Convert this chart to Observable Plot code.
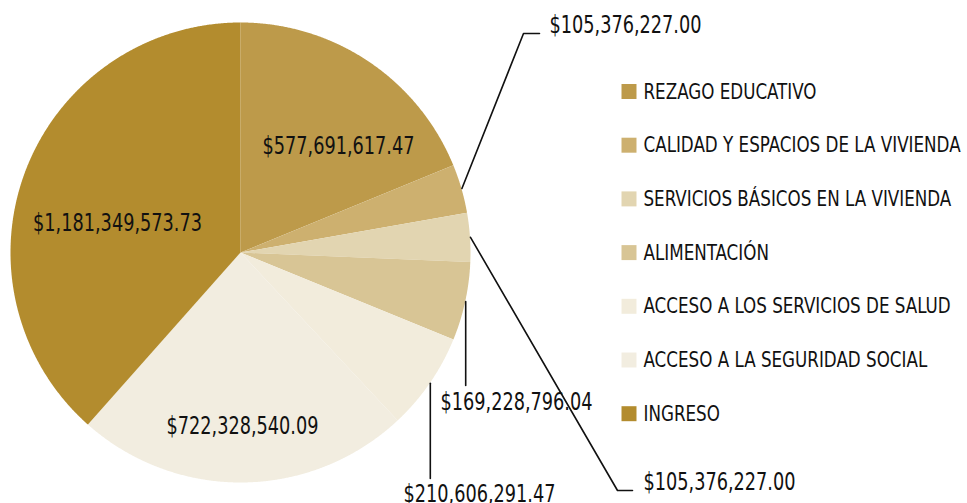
<!DOCTYPE html>
<html><head><meta charset="utf-8">
<script src="https://cdn.jsdelivr.net/npm/d3@7"></script>
<script src="https://cdn.jsdelivr.net/npm/@observablehq/plot@0.6"></script>
<style>body{margin:0;background:#fff}</style>
</head><body><div id="chart"></div>
<script>
const categories = ["REZAGO EDUCATIVO", "CALIDAD Y ESPACIOS DE LA VIVIENDA", "SERVICIOS BÁSICOS EN LA VIVIENDA", "ALIMENTACIÓN", "ACCESO A LOS SERVICIOS DE SALUD", "ACCESO A LA SEGURIDAD SOCIAL", "INGRESO"];
const values = [577691617.47, 105376227.00, 105376227.00, 169228796.04, 210606291.47, 722328540.09, 1181349573.73];
const colors = ["#bd9a4a", "#cdb06f", "#e2d5b1", "#d8c595", "#f2ecdc", "#f2ede0", "#b38c2e"];

const W = 967, H = 503, cx = 240, cy = 252, R = 230;
const FONT = "'DejaVu Sans Condensed', 'DejaVu Sans', sans-serif";
const fmt = v => "$" + d3.format(",.2f")(v);
const arcs = d3.pie().sort(null).value(d => d)(values);
const pt = (a, r) => [cx + r * Math.sin(a), cy - r * Math.cos(a)];

const slicePts = [];
arcs.forEach((a, i) => {
  const cat = categories[i];
  slicePts.push({cat, x: cx, y: cy});
  const n = Math.max(2, Math.ceil((a.endAngle - a.startAngle) / 0.004));
  for (let k = 0; k <= n; k++) {
    const t = a.startAngle + (a.endAngle - a.startAngle) * k / n;
    const [x, y] = pt(t, R);
    slicePts.push({cat, x, y});
  }
  slicePts.push({cat, x: cx, y: cy});
});

// layout of labels (annotation placement)
const insideLayout = {0: [338, 146], 5: [242, 426], 6: [117, 223]};
const leaderLayout = {
  1: {pts: [[523, 33], [539, 33]], text: [549, 25]},
  2: {pts: [[617, 490], [632, 490]], text: [643, 482]},
  3: {vy: 385, text: [440, 402]},
  4: {vy: 478, text: [403, 494]}
};

const insideLabels = Object.entries(insideLayout).map(([i, p]) => ({x: p[0], y: p[1], text: fmt(values[+i])}));
const leaderLines = [];
const leaderLabels = [];
Object.entries(leaderLayout).forEach(([i, L]) => {
  const a = arcs[+i];
  const mid = (a.startAngle + a.endAngle) / 2;
  const [sx, sy] = pt(mid, R + 0.5);
  leaderLines.push({id: i, x: sx, y: sy});
  if (L.pts) L.pts.forEach(p => leaderLines.push({id: i, x: p[0], y: p[1]}));
  else leaderLines.push({id: i, x: sx, y: L.vy});
  leaderLabels.push({x: L.text[0], y: L.text[1], text: fmt(values[+i])});
});

const rowY = i => 91 + i * 53.7;

const chart = Plot.plot({
  width: W, height: H, margin: 0,
  x: {domain: [0, W], range: [0, W], axis: null},
  y: {domain: [0, H], range: [0, H], axis: null},
  color: {domain: categories, range: colors},
  style: {background: "white", fontFamily: FONT},
  marks: [
    Plot.line(slicePts, {x: "x", y: "y", z: "cat", fill: "cat", stroke: "none", curve: "linear"}),
    Plot.line(leaderLines, {x: "x", y: "y", z: "id", stroke: "#111", strokeWidth: 1.6, curve: "linear"}),
    Plot.text(insideLabels, {x: "x", y: "y", text: "text", textAnchor: "middle", fontSize: 24, fill: "#111", fontFamily: FONT}),
    Plot.text(leaderLabels, {x: "x", y: "y", text: "text", textAnchor: "start", fontSize: 24, fill: "#111", fontFamily: FONT}),
    Plot.dot(categories, {x: () => 628.5, y: (d, i) => rowY(i), symbol: "square", r: 8.46, fill: d => d, stroke: "none"}),
    Plot.text(categories, {x: () => 643, y: (d, i) => rowY(i), text: d => d, textAnchor: "start", fontSize: 22, fill: "#111", fontFamily: FONT})
  ]
});
document.getElementById("chart").appendChild(chart);

// condense text horizontally to mimic a condensed typeface
const texts = Array.from(chart.querySelectorAll("text"));
const refLegend = texts.find(t => t.textContent === "REZAGO EDUCATIVO");
const refValue = texts.find(t => t.textContent === fmt(values[0]));
const kLegend = refLegend ? 173 / refLegend.getComputedTextLength() : 1;
const kValue = refValue ? 152 / refValue.getComputedTextLength() : 1;
texts.forEach(t => {
  const k = t.textContent.startsWith("$") ? kValue : kLegend;
  const len = t.getComputedTextLength();
  t.setAttribute("textLength", (len * k).toFixed(1));
  t.setAttribute("lengthAdjust", "spacingAndGlyphs");
});
</script>
</body></html>
